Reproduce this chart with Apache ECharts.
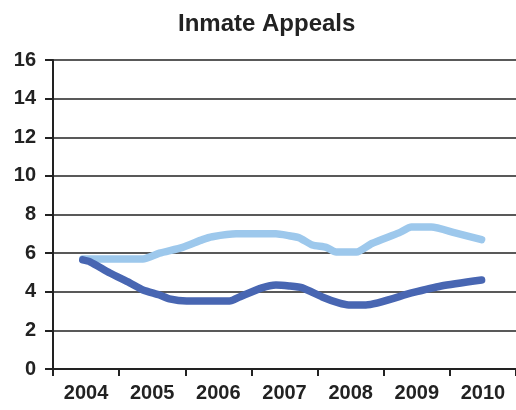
<!DOCTYPE html>
<html>
<head>
<meta charset="utf-8">
<script src="https://cdn.jsdelivr.net/npm/echarts@6/dist/echarts.min.js"></script>
<style>
  html, body { margin: 0; padding: 0; background: #fff; }
  #chart { width: 516px; height: 410px; }
</style>
</head>
<body>
<div id="chart"></div>
<script>
const years = ['2004', '2005', '2006', '2007', '2008', '2009', '2010'];
const yTicks = [0, 2, 4, 6, 8, 10, 12, 14, 16];

// [decimal year, value]
const darkSeries = [
  [2004.45, 5.65], [2004.56, 5.55], [2004.86, 4.97], [2005.16, 4.46],
  [2005.36, 4.09], [2005.61, 3.83], [2005.76, 3.63], [2006.02, 3.52],
  [2006.67, 3.52], [2006.82, 3.73], [2007.16, 4.2], [2007.37, 4.35],
  [2007.57, 4.3], [2007.77, 4.2], [2008.07, 3.73], [2008.32, 3.42],
  [2008.47, 3.32], [2008.73, 3.32], [2009.42, 3.94], [2009.87, 4.3],
  [2010.48, 4.61]
];
const lightSeries = [
  [2004.45, 5.7], [2005.36, 5.7], [2005.61, 6.0], [2005.96, 6.3],
  [2006.26, 6.7], [2006.41, 6.85], [2006.77, 7.0], [2007.37, 7.0],
  [2007.57, 6.9], [2007.72, 6.8], [2007.92, 6.42], [2008.13, 6.3],
  [2008.28, 6.06], [2008.59, 6.06], [2008.82, 6.5], [2009.23, 7.05],
  [2009.42, 7.35], [2009.72, 7.35], [2010.08, 7.05], [2010.48, 6.7]
];

const chart = echarts.init(document.getElementById('chart'));
const labelFont = { color: '#222', fontSize: 20, fontWeight: 'bold', fontFamily: 'Liberation Sans, Arial, sans-serif' };

chart.setOption({
  animation: false,
  title: {
    text: 'Inmate Appeals',
    left: 173,
    top: 7,
    textStyle: { color: '#222', fontSize: 24, fontWeight: 'bold', fontFamily: 'Liberation Sans, Arial, sans-serif' }
  },
  grid: { left: 53, right: -2, top: 60, bottom: 41 },
  xAxis: [
    {
      type: 'category',
      data: years,
      boundaryGap: true,
      axisLine: { lineStyle: { color: '#222', width: 2 } },
      axisTick: { show: true, length: 7, lineStyle: { color: '#222', width: 2 } },
      axisLabel: Object.assign({ margin: 14 }, labelFont),
      splitLine: { show: false }
    },
    {
      type: 'value',
      min: 2004,
      max: 2011,
      show: false
    }
  ],
  yAxis: {
    type: 'value',
    min: yTicks[0],
    max: yTicks[yTicks.length - 1],
    interval: 2,
    axisLine: { show: true, lineStyle: { color: '#222', width: 2 } },
    axisTick: { show: true, length: 8, lineStyle: { color: '#222', width: 2 } },
    axisLabel: Object.assign({ margin: 17 }, labelFont),
    splitLine: { show: true, lineStyle: { color: '#222', width: 1.5 } }
  },
  series: [
    {
      type: 'line',
      xAxisIndex: 1,
      data: lightSeries,
      showSymbol: false,
      smooth: 0.2,
      lineStyle: { color: '#9dc8ec', width: 7.5, cap: 'round', join: 'round' }
    },
    {
      type: 'line',
      xAxisIndex: 1,
      data: darkSeries,
      showSymbol: false,
      smooth: 0.2,
      lineStyle: { color: '#4866b2', width: 7.5, cap: 'round', join: 'round' }
    }
  ]
});
</script>
</body>
</html>
